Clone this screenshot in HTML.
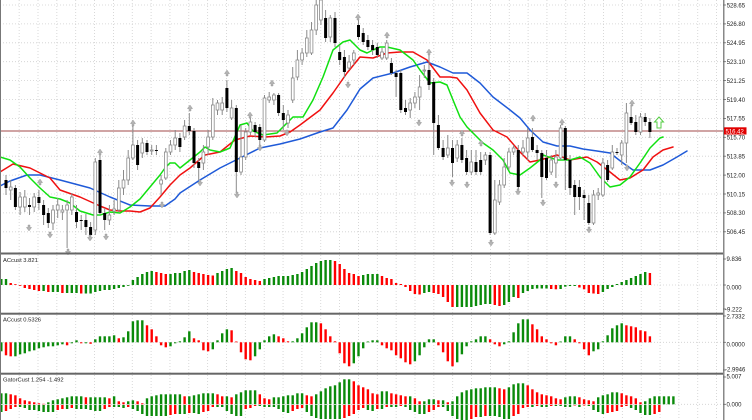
<!DOCTYPE html>
<html><head><meta charset="utf-8">
<style>
html,body{margin:0;padding:0;background:#fff;}
body{width:752px;height:420px;overflow:hidden;position:relative;}
svg{position:absolute;left:0;top:0;}
text{font-family:"Liberation Sans",sans-serif;fill:#222;}
</style></head>
<body>
<svg id="s" width="752" height="420" viewBox="0 0 752 420" xmlns="http://www.w3.org/2000/svg">
<rect x="0" y="0" width="752" height="420" fill="#fff"/>
<g id="grid"></g>
<g id="p1"></g><g id="p2"></g><g id="p3"></g>
<line x1="0" y1="131" x2="723" y2="131" stroke="#a04848" stroke-width="1"/>
<g id="ma"></g>
<g id="cdl"></g>
<g id="frac"></g>
<polygon points="659,117 663.5,122 661,122 661,128 657,128 657,122 654.5,122" fill="#fff" stroke="#55cc44" stroke-width="1"/>
<rect x="0" y="252.5" width="723.5" height="2" fill="#666"/>
<rect x="0" y="312.7" width="723.5" height="2" fill="#666"/>
<rect x="0" y="372.7" width="723.5" height="2" fill="#666"/>
<rect x="0" y="0" width="1" height="420" fill="#777"/>
<rect x="723" y="0" width="1.5" height="420" fill="#888"/>
<g id="ticks"></g>
<g font-size="6px">
<text x="726.7" y="7.3">528.65</text>
<text x="726.7" y="26.2">526.80</text>
<text x="726.7" y="45.1">524.95</text>
<text x="726.7" y="64">523.10</text>
<text x="726.7" y="82.9">521.25</text>
<text x="726.7" y="101.8">519.40</text>
<text x="726.7" y="120.7">517.55</text>
<text x="726.7" y="139.6">515.70</text>
<text x="726.7" y="158.5">513.85</text>
<text x="726.7" y="177.4">512.00</text>
<text x="726.7" y="196.3">510.15</text>
<text x="726.7" y="215.2">508.30</text>
<text x="726.7" y="234.1">506.45</text>
</g>
<rect x="724" y="127.3" width="22.5" height="7.2" fill="#e00000"/>
<text x="725.5" y="133.4" font-size="6px" style="fill:#fff">516.42</text>
<g font-size="6px">
<text x="726.5" y="261">9.836</text>
<text x="726.5" y="289.3">0.000</text>
<text x="725" y="311.5">-9.222</text>
<text x="726.5" y="318.5">2.7332</text>
<text x="726.5" y="346.7">0.0000</text>
<text x="725" y="371.7">-2.9946</text>
<text x="726.5" y="378.7">5.007</text>
<text x="726.5" y="406.7">0.000</text>
</g>
<g font-size="5.8px">
<text x="3" y="262">ACcust 3.821</text>
<text x="3" y="321.7">ACcust 0.5326</text>
<text x="3" y="381.7">GatorCust 1.254 -1.492</text>
</g>
</svg>
<script>
(function(){
var NS="http://www.w3.org/2000/svg";
function el(p,t,a){var e=document.createElementNS(NS,t);for(var k in a)e.setAttribute(k,a[k]);p.appendChild(e);return e;}
function g(id){return document.getElementById(id);}
var bx=function(i){return 6+i*4.7;};
var G=g("grid");
for(var k=0;k<=38;k++){var x=0.3+k*18.85;el(G,"line",{x1:x,y1:0,x2:x,y2:420,stroke:"#cfcfcf","stroke-width":0.8,"stroke-dasharray":"1 2"});}
for(var k=0;k<=12;k++){var y=5+k*18.9;el(G,"line",{x1:0,y1:y,x2:723,y2:y,stroke:"#cfcfcf","stroke-width":0.8,"stroke-dasharray":"1 2"});}
[285,342.3,404.3].forEach(function(y){el(G,"line",{x1:0,y1:y,x2:723,y2:y,stroke:"#cfcfcf","stroke-width":0.8,"stroke-dasharray":"1 2"});});
var T=g("ticks");
for(var k=0;k<=12;k++){var y=5+k*18.9;el(T,"line",{x1:723,y1:y,x2:726,y2:y,stroke:"#666","stroke-width":0.8});}
[259,285,309,316,342.3,370,377,404.3].forEach(function(y){el(T,"line",{x1:723,y1:y,x2:726,y2:y,stroke:"#666","stroke-width":0.8});});
var cs="0,180,188,175,195;1,187,190,180,200;0,188,207,185,210;1,197,207,192,215;1,197,207,190,212;0,205,207,198,215;1,197,207,193,212;0,197,203,190,210;0,205,215,200,225;0,213,223,208,228;1,210,223,205,230;1,205,210,198,218;1,210,212,205,220;1,205,210,200,248;1,197,210,193,215;0,212,222,205,228;0,220,221,215,230;0,220,227,214,235;0,227,235,222,240;1,162,230,158,235;0,160,213,155,215;0,213,220,208,230;1,215,220,205,225;1,209,211,200,215;1,188,210,180,212;1,180,188,170,195;1,158,180,150,185;1,145,158,125,160;0,145,165,140,170;1,143,153,138,158;0,143,152,140,155;1,150,151,145,155;0,150,151,145,155;1,180,184,175,195;1,152,178,148,180;1,145,152,140,155;1,138,145,130,150;0,138,147,133,152;1,126,137,120,140;0,126,131,113,135;0,131,163,128,168;0,162,168,158,180;1,152,163,145,170;1,137,147,130,155;1,105,137,98,140;1,103,110,100,115;1,103,110,97,115;0,88,108,80,112;1,108,118,100,120;0,108,172,105,193;1,157,172,125,175;1,132,157,128,160;1,122,132,118,135;0,125,132,122,137;0,127,140,124,145;1,98,140,95,142;1,97,100,92,103;1,95,100,93,105;0,95,113,93,116;0,113,120,105,130;1,115,123,110,128;1,78,100,67,103;1,60,77,50,80;1,53,60,48,65;1,38,53,30,57;1,30,53,22,55;1,5,30,0,35;1,0,20,0,25;0,18,38,10,42;1,18,37,15,42;0,18,43,12,47;0,52,60,45,65;0,57,72,50,78;1,62,68,55,70;1,53,60,50,65;0,25,37,15,40;0,33,42,28,45;0,40,47,35,50;0,45,50,40,55;0,47,55,43,58;1,52,58,48,60;1,43,58,40,60;0,63,73,58,75;0,73,77,70,97;0,73,110,70,113;0,108,112,100,115;1,103,110,98,118;1,97,103,92,108;1,87,97,75,110;1,70,71,65,78;0,70,85,55,90;0,82,123,78,155;0,125,148,115,150;0,148,157,140,160;1,148,155,135,158;0,148,163,140,177;1,145,158,140,162;0,145,160,138,163;0,158,172,150,175;1,162,172,150,175;0,162,172,150,175;0,160,172,152,175;1,155,160,152,165;0,155,233,152,235;1,200,233,180,235;1,185,202,180,205;1,167,185,158,188;1,152,167,148,170;1,148,152,145,155;0,150,187,145,190;1,148,152,140,155;1,138,152,128,160;0,137,150,128,152;0,150,153,145,160;0,153,177,150,198;0,158,178,150,180;1,160,172,155,175;1,157,163,150,178;1,128,158,125,160;0,128,160,126,190;0,160,188,155,195;0,185,197,180,215;0,187,197,180,210;0,195,198,190,220;0,203,223,195,225;1,195,223,190,225;1,193,195,188,200;1,163,195,158,197;0,165,180,160,182;1,152,168,145,170;0,152,153,148,155;1,143,155,140,165;1,113,143,103,163;0,117,123,105,125;0,122,132,115,135;1,117,132,113,135;0,117,122,113,126;0,122,132,118,138";
var C=g("cdl");
cs.split(";").forEach(function(r,i){var a=r.split(",").map(Number);var x=bx(i);
el(C,"line",{x1:x,y1:a[3],x2:x,y2:a[4],stroke:"#8a8a8a","stroke-width":1});
var h=Math.max(a[2]-a[1],1);
if(a[0]==1)el(C,"rect",{x:x-1.4,y:a[1],width:2.8,height:h,fill:"#fff",stroke:"#8a8a8a","stroke-width":0.8});
else el(C,"rect",{x:x-1.5,y:a[1],width:3,height:h,fill:"#000"});
});
function pl(pts,col){el(g("ma"),"polyline",{points:pts,fill:"none",stroke:col,"stroke-width":1.5,"stroke-linejoin":"round","stroke-linecap":"round"});}
pl("0,186 10,181 27,175 40,175 60,180 75,184 90,188 110,197 130,205 150,206 165,206 175,199 180,193 200,180 220,168 240,158 260,148 280,144 300,139 320,132 333,128 347,110 360,89 373,78 393,73 410,67 427,62 440,67 453,73 467,73 480,83 493,97 510,110 520,118 530,130 543,142 557,146 570,146 583,149 597,151 610,153 623,163 633,170 650,170 663,165 677,157 687,151","#1f5ad8");
pl("0,172 13,164 30,168 50,178 60,190 80,197 100,206 110,210 120,211 130,211 140,212 150,208 160,197 170,185 180,175 190,168 205,155 220,152 235,140 250,136 265,137 280,136 290,132 300,125 320,110 333,93 347,73 360,57 373,58 387,53 400,52 413,52 427,60 440,77 450,77 457,78 467,90 480,113 493,130 507,137 520,152 530,162 540,160 547,158 557,155 570,160 587,157 597,162 610,172 620,180 630,178 643,170 653,157 663,150 673,147","#f01010");
pl("0,157 10,160 20,167 30,178 40,188 50,197 60,199 70,203 80,211 93,215 100,215 110,212 120,213 130,207 140,199 150,187 160,175 165,168 170,163 175,163 180,168 190,160 200,152 205,147 210,150 220,152 230,148 240,125 247,123 253,131 263,135 277,133 287,123 293,117 303,117 313,100 323,77 333,50 343,42 350,40 360,50 367,53 373,50 380,47 387,47 400,50 413,60 420,70 430,83 440,82 447,85 453,100 460,117 467,127 477,137 483,143 493,150 503,160 510,173 520,175 530,168 540,160 543,155 557,160 570,160 580,157 590,163 600,177 610,187 620,185 630,177 640,163 650,148 660,138 663,137","#10e010");
var F=g("frac");
function arr(x,y,up){var s=up?1:-1;var p=[[0,-3],[2.6,0.6],[1,0.6],[1,3],[-1,3],[-1,0.6],[-2.6,0.6]].map(function(q){return (x+q[0])+","+(y+s*q[1]);}).join(" ");el(F,"polygon",{points:p,fill:"#b4b4b4",stroke:"#909090","stroke-width":0.4});}
[[40,182],[100,152],[133,123],[190,108],[227,73],[250,115],[272,83],[358,17],[387,35],[429,52],[462,133],[481,143],[533,118],[562,122],[632,103]].forEach(function(a){arr(a[0],a[1],true);});
[[29,228],[50,235],[68,252],[90,238],[106,237],[162,205],[200,183],[237,195],[260,148],[287,133],[348,85],[419,123],[452,183],[467,185],[491,243],[518,192],[543,203],[556,185],[589,230],[627,168]].forEach(function(a){arr(a[0],a[1],false);});
var GR="#0a8a0a",RD="#ff0000";
var p1=[6,6,2,0.5,-0.5,-3,-4,-5,-6,-6,-7,-7,-7,-8,-8,-8,-8,-8.5,-8.5,-8.5,-7,-6,-5,-5,-4,-3,-2,-0.5,5,8,11,13,14,13,12,11,11,12,12,14,15,13,12,11,10,9.5,12,14,16,17,14,12,8,6,5,4,6,7,8,9,9,9,10,11,13,16,19,22,24,25,25,24,21,16,12,11,9,10,11,11,11,9,7,6,2,1,-2,-6,-9,-9.5,-8,-7,-8,-9,-12,-17,-22,-22,-22,-22,-22,-21,-20,-19,-19,-20,-21,-20,-17,-12,-13,-8,-6,-4,-3.5,-3.5,-3.5,-4,-4.3,-4,-1.7,-1,-1,-2.5,-4.3,-8,-8.5,-9,-7,-4,-2,1,3,5,7,9,11,13,12];
var p2=[-9,-13,-14,-14,-12,-11,-9,-8,-6,-5,-4,-4,-3,-2,-3,-1,2,-1,-1,-1.5,3,6,6,6,7,4,5,11,21,22,22,17,13,6,-3,-5,-4,-1,1,5,11,4,2,-8,-9,-7,2,9,13,12,0,-10,-17,-18,-14,-7,2,6,8,6,4,1,1,4,9,15,20,20,19,13,6,1,-11,-21,-24,-21,-14,-6,0.5,2,2,-3,-6,-8,-13,-16,-20,-22,-19,-13,-5,3,3,-3,-10,-19,-24,-20,-12,-4,1,3,6,6,3,-2,-4,-2,1,10,19,23,23,18,13,6,3,-1,-3,0.5,6,6,3,-1,-7,-13,-9,-7,1,7,14,17,19,17,16,15,12,11,6];
function ac(id,arr,zero){var P=g(id);for(var j=0;j<arr.length;j++){var v=arr[j],i=j-1,x=bx(i);var prev=j>0?arr[j-1]:v;var col=v>=prev?GR:RD;var h=Math.max(Math.abs(v),0.8);el(P,"rect",{x:x-1.2,y:v>=0?zero-h:zero,width:2.4,height:h,fill:col});}}
ac("p1",p1,285);ac("p2",p2,342.3);
var up=[11,11,10,9,6,4,3,2,1,0.5,2,4,5,6,7,8,8,8,7,7,7,7,7,6,8,3,2,3,4,3,1,6,8,9,10,10,10,10,10,8,8,9,10,11,11,11,10,8,8,7,10,12,14,14,14,10,6,5,7,7,8,9,9,11,11,9,8,10,13,16,18,19,22,25,25,23,19,17,15,11,10,13,13,11,10,9,8,8,6,3,3,5,5,4,4,2,3,8,12,14,15,16,16,17,17,17,16,15,17,20,21,21,19,15,12,10,9,8,6,5,7,8,8,7,5,4,3,7,9,10,12,12,11,9,8,6,2,3,6,8,8,8,8,8];
var lo=[7,6,4,2,2,3,5,5,6,7,7,7,5,4,4,3,4,4,4,5,6,6,4,2,2,2,3,2,4,6,9,11,11,11,11,11,10,9,9,9,8,8,9,7,6,2,2,2,6,9,11,11,4,3,1,1,2,2,2,4,7,8,6,4,3,7,11,13,14,14,14,14,14,13,11,9,5,3,5,6,4,4,2,2,2,1,2,5,7,9,9,7,5,2,2,6,11,14,15,15,14,12,12,11,11,11,12,14,14,11,9,3,2,2,1,2,2,1,1,1,2,2,0.5,2,0.5,1,5,7,9,8,7,6,2,1,3,5,8,10,10,9,7,0,0,0];
var P3=g("p3"),Z=404.3;
for(var j=0;j<up.length;j++){var x=bx(j-1);var u=up[j],pu=j>0?up[j-1]:u;if(u>0)el(P3,"rect",{x:x-1.2,y:Z-u,width:2.4,height:u,fill:u>=pu?GR:RD});}
for(var j=0;j<lo.length;j++){var x=bx(j-1);var l=lo[j],pl2=j>0?lo[j-1]:l;if(l>0)el(P3,"rect",{x:x-1.2,y:Z+0.7,width:2.4,height:l,fill:l>=pl2?GR:RD});}
})();
</script>
</body></html>
